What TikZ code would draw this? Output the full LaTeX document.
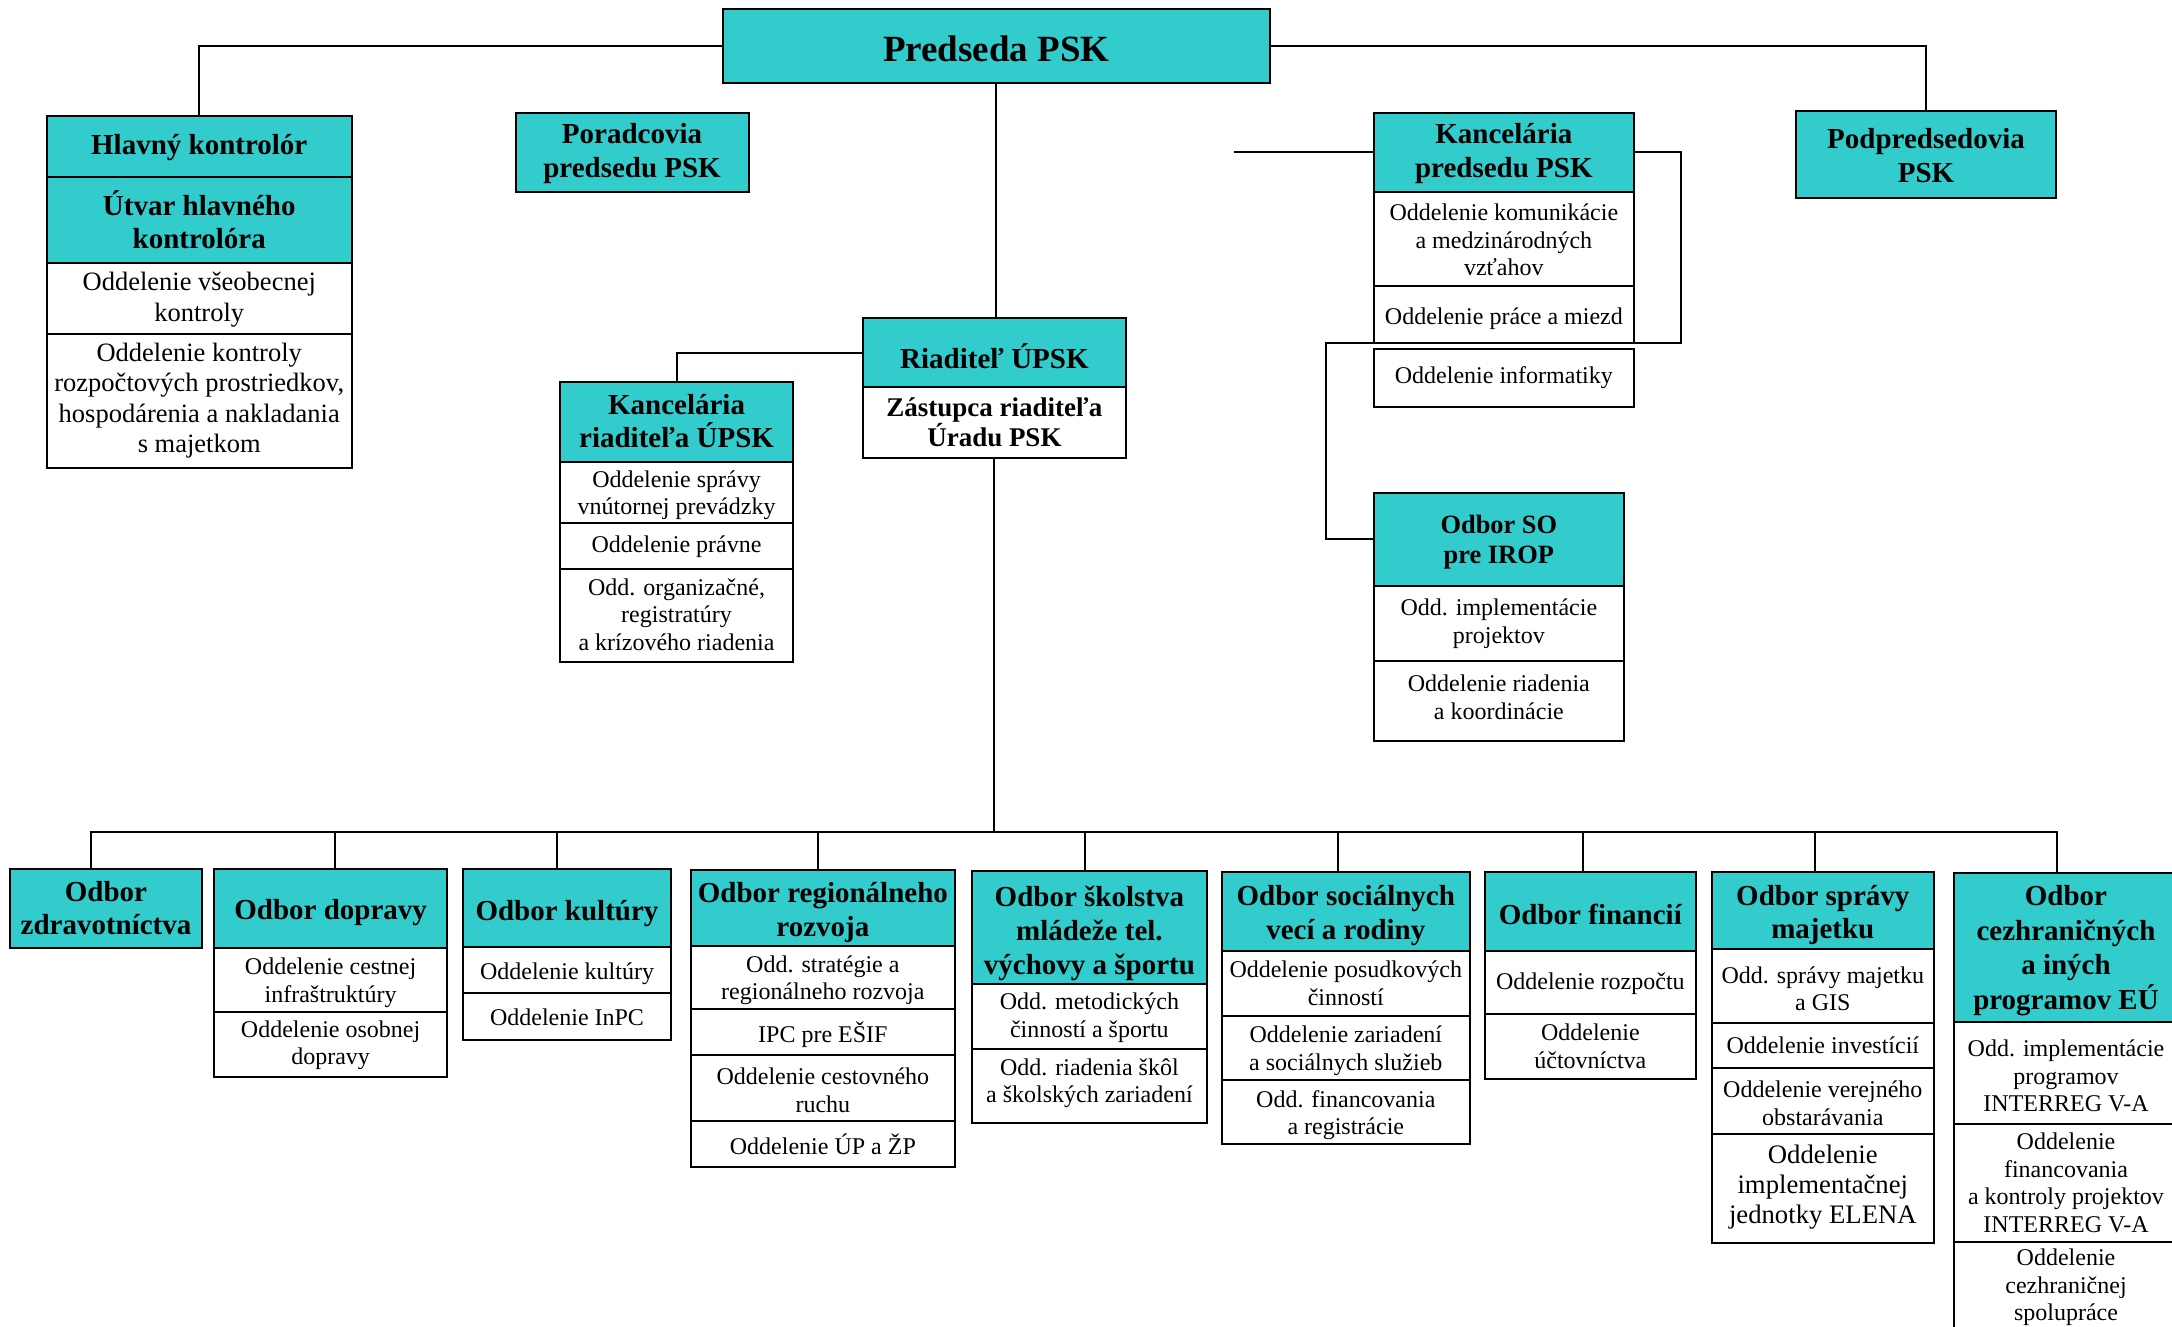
\documentclass[tikz,border=0pt]{standalone}
\usepackage{fontspec}
\setmainfont{Liberation Serif}
\definecolor{tealbox}{RGB}{51,204,204}
% \orgbox[text shift down]{style}{name}{x1}{y1}{x2}{y2}{text}
\newcommand{\orgbox}[8][0]{%
  \pgfmathsetmacro{\obw}{#6-#4}%
  \pgfmathsetmacro{\obh}{#7-#5}%
  \pgfmathsetmacro{\obx}{(#4+#6)/2}%
  \pgfmathsetmacro{\oby}{(#5+#7)/2}%
  \pgfmathsetmacro{\obs}{-(#1)}%
  \node[#2, minimum width=\obw pt, minimum height=\obh pt,
        label={[#2, draw=none, fill=none, minimum width=0pt, minimum height=0pt, yshift=\obs pt]center:{#8}}]
        (#3) at (\obx,\oby) {};}
\tikzset{
  org/.style={draw=black, line width=2pt, inner sep=0pt, align=center, fill=white},
  hd/.style={org, fill=tealbox, font=\bfseries\fontsize{29}{33.4}\selectfont},
  bd/.style={org, font=\fontsize{24}{27.6}\selectfont},
  bdl/.style={org, font=\fontsize{26.5}{30.5}\selectfont},
  bdb/.style={org, font=\bfseries\fontsize{27}{30}\selectfont},
  conn/.style={line width=2pt, line join=miter},
}
\begin{document}
\begin{tikzpicture}[x=1pt,y=-1pt]
\useasboundingbox (0,0) rectangle (2172,1327);
\clip (0,0) rectangle (2172,1327);
\fill[white] (0,0) rectangle (2172,1327);

% top level
\orgbox[3]{hd, font=\bfseries\fontsize{37}{42}\selectfont}{pred}{722.5}{9.3}{1270}{82.7}{Predseda PSK}

\orgbox[1]{hd}{hk}{47}{115.7}{351.5}{176.7}{Hlavný kontrolór}
\orgbox{hd}{uhk}{47}{176.7}{351.5}{263.3}{Útvar hlavného\\kontrolóra}
\orgbox[1]{bdl}{hk1}{47}{263.3}{351.5}{334}{Oddelenie všeobecnej\\kontroly}
\orgbox{bdl}{hk2}{47}{334}{351.5}{467.7}{Oddelenie kontroly\\rozpočtových prostriedkov,\\hospodárenia a nakladania\\s majetkom}

\orgbox[1]{hd}{por}{515.6}{113}{748.5}{192}{Poradcovia\\predsedu PSK}

\orgbox[1]{hd}{kp}{1374}{113}{1633.7}{192}{Kancelária\\predsedu PSK}
\orgbox[1]{bd}{kp1}{1374}{192}{1633.7}{286}{Oddelenie komunikácie\\a medzinárodných\\vzťahov}
\orgbox[4]{bd}{kp2}{1374}{286}{1633.7}{342.5}{Oddelenie práce a miezd}
\orgbox{bd}{kp3}{1374}{349}{1633.7}{406.5}{Oddelenie informatiky}

\orgbox[1]{hd}{pp}{1796}{111}{2056}{198}{Podpredsedovia\\PSK}

\orgbox[3]{hd}{riad}{862.5}{318.3}{1126.3}{387.3}{Riaditeľ ÚPSK}
\orgbox{bdb}{zast}{862.5}{387.3}{1126.3}{457.7}{Zástupca riaditeľa\\Úradu PSK}

\orgbox[-1]{hd}{kr}{559.8}{382.3}{793.3}{461.7}{Kancelária\\riaditeľa ÚPSK}
\orgbox[3]{bd}{kr1}{559.8}{461.7}{793.3}{522.7}{Oddelenie správy\\vnútornej prevádzky}
\orgbox[1]{bd}{kr2}{559.8}{522.7}{793.3}{569.3}{Oddelenie právne}
\orgbox[-1]{bd}{kr3}{559.8}{569.3}{793.3}{661.7}{Odd. organizačné,\\registratúry\\a krízového riadenia}

\orgbox[3]{hd, font=\bfseries\fontsize{26.4}{30.4}\selectfont}{so}{1374}{492.7}{1623.7}{585.7}{Odbor SO\\pre IROP}
\orgbox{bd}{so1}{1374}{585.7}{1623.7}{661.3}{Odd. implementácie\\projektov}
\orgbox[-4]{bd}{so2}{1374}{661.3}{1623.7}{741}{Oddelenie riadenia\\a koordinácie}

% bottom row
\orgbox{hd}{zd}{9.8}{868.7}{202.2}{948}{Odbor\\zdravotníctva}

\orgbox[4]{hd}{dop}{214.3}{868.7}{446.9}{947.7}{Odbor dopravy}
\orgbox[3]{bd}{dop1}{214.3}{947.7}{446.9}{1012}{Oddelenie cestnej\\infraštruktúry}
\orgbox[1]{bd}{dop2}{214.3}{1012}{446.9}{1076.7}{Oddelenie osobnej\\dopravy}

\orgbox[5.5]{hd}{kul}{463}{868.7}{671}{946.7}{Odbor kultúry}
\orgbox[4]{bd}{kul1}{463}{946.7}{671}{993.3}{Oddelenie kultúry}
\orgbox[1]{bd}{kul2}{463}{993.3}{671}{1039.7}{Oddelenie InPC}

\orgbox[4.5]{hd, font=\bfseries\fontsize{29}{34.5}\selectfont}{reg}{691.2}{870}{954.5}{945.7}{Odbor regionálneho\\rozvoja}
\orgbox[3]{bd}{reg1}{691.2}{945.7}{954.5}{1009}{Odd. stratégie a\\regionálneho rozvoja}
\orgbox[3]{bd}{reg2}{691.2}{1009}{954.5}{1055}{IPC pre EŠIF}
\orgbox[2]{bd}{reg3}{691.2}{1055}{954.5}{1121}{Oddelenie cestovného\\ruchu}
\orgbox{bd}{reg4}{691.2}{1121}{954.5}{1167.3}{Oddelenie ÚP a ŽP}

\orgbox[6]{hd, font=\bfseries\fontsize{29}{34}\selectfont}{sk}{971.8}{870.7}{1207}{984.3}{Odbor školstva\\mládeže tel.\\výchovy a športu}
\orgbox[1]{bd}{sk1}{971.8}{984.3}{1207}{1049}{Odd. metodických\\činností a športu}
\orgbox[-3]{bd}{sk2}{971.8}{1049}{1207}{1123.3}{Odd. riadenia škôl\\a školských zariadení}

\orgbox[4]{hd}{soc}{1221.8}{872.3}{1469.8}{950.7}{Odbor sociálnych\\vecí a rodiny}
\orgbox{bd}{soc1}{1221.8}{950.7}{1469.8}{1015.7}{Oddelenie posudkových\\činností}
\orgbox[3]{bd}{soc2}{1221.8}{1015.7}{1469.8}{1080}{Oddelenie zariadení\\a sociálnych služieb}
\orgbox[3]{bd}{soc3}{1221.8}{1080}{1469.8}{1144}{Odd. financovania\\a registrácie}

\orgbox[3]{hd}{fin}{1485}{872.3}{1695.7}{950.7}{Odbor financií}
\orgbox[1]{bd}{fin1}{1485}{950.7}{1695.7}{1014.3}{Oddelenie rozpočtu}
\orgbox{bd}{fin2}{1485}{1014.3}{1695.7}{1078.7}{Oddelenie\\účtovníctva}

\orgbox[4.5]{hd}{sm}{1711.6}{872.3}{1934}{949}{Odbor správy\\majetku}
\orgbox[3]{bd}{sm1}{1711.6}{949}{1934}{1022.7}{Odd. správy majetku\\a GIS}
\orgbox{bd}{sm2}{1711.6}{1022.7}{1934}{1067.7}{Oddelenie investícií}
\orgbox[2]{bd}{sm3}{1711.6}{1067.7}{1934}{1134.3}{Oddelenie verejného\\obstarávania}
\orgbox[-1]{bd, font=\fontsize{26.7}{30}\selectfont}{sm4}{1711.6}{1134.3}{1934}{1242.7}{Oddelenie\\implementačnej\\jednotky ELENA}

\orgbox[3]{hd, font=\bfseries\fontsize{29}{34.5}\selectfont}{cz}{1954}{873.3}{2178}{1022.3}{Odbor\\cezhraničných\\a iných\\programov EÚ}
\orgbox[3]{bd}{cz1}{1954}{1022.3}{2178}{1123.7}{Odd. implementácie\\programov\\INTERREG V-A}
\orgbox{bd}{cz2}{1954}{1123.7}{2178}{1241.7}{Oddelenie\\financovania\\a kontroly projektov\\INTERREG V-A}
\orgbox{bd}{cz3}{1954}{1241.7}{2178}{1333}{Oddelenie\\cezhraničnej\\spolupráce}

% connectors
\draw[conn] (pred.west) -| (hk.north);
\draw[conn] (pred.east) -| (pp.north);
\draw[conn] (pred.south) -- (pred.south |- riad.north);
\draw[conn] (riad.west) -| (kr.north);
\coordinate (stub) at (1234,152.5);
\draw[conn] (stub) -- (kp.west);
\coordinate (rc1) at (1681,342.5);
\coordinate (rc2) at (1326,342.5);
\draw[conn] (kp.east) -| (rc1) -- (rc2) |- (so.west);

\coordinate (bus) at (996.3,831.7);
\draw[conn] (zast.south) -- (zast.south |- bus);
\coordinate (d1) at (91,831.7);
\coordinate (d2) at (335.3,831.7);
\coordinate (d3) at (556.7,831.7);
\coordinate (d4) at (818.3,831.7);
\coordinate (d5) at (1084.6,831.7);
\coordinate (d6) at (1338.2,831.7);
\coordinate (d7) at (1583,831.7);
\coordinate (d8) at (1814.6,831.7);
\coordinate (d9) at (2057,831.7);
\draw[conn] (d1 |- zd.north) -- (d1) -- (d9) -- (d9 |- cz.north);
\draw[conn] (d2) -- (d2 |- dop.north);
\draw[conn] (d3) -- (d3 |- kul.north);
\draw[conn] (d4) -- (d4 |- reg.north);
\draw[conn] (d5) -- (d5 |- sk.north);
\draw[conn] (d6) -- (d6 |- soc.north);
\draw[conn] (d7) -- (d7 |- fin.north);
\draw[conn] (d8) -- (d8 |- sm.north);
\end{tikzpicture}
\end{document}
